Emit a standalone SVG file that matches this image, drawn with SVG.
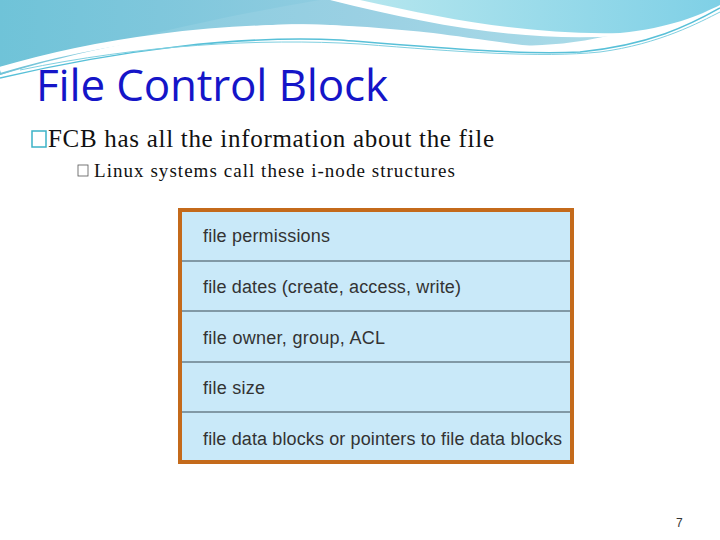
<svg xmlns="http://www.w3.org/2000/svg" width="720" height="540" viewBox="0 0 720 540">
<defs>
<linearGradient id="w1" x1="0" y1="0" x2="1" y2="0"><stop offset="0" stop-color="#6fc3d8"/><stop offset="0.5" stop-color="#8fcbe0"/><stop offset="1" stop-color="#a9dde8"/></linearGradient>
<linearGradient id="w2" x1="0" y1="0" x2="1" y2="0"><stop offset="0" stop-color="#b5e6ee"/><stop offset="1" stop-color="#7fd0e6"/></linearGradient>
</defs>
<style>
.row{fill:#c9e9f9}
.div{stroke:#3a4a55;stroke-width:1.2}
.t{font-family:"Liberation Sans",Arial,sans-serif;font-size:18px;fill:#333}
</style>
<rect width="720" height="540" fill="#fff"/>
<g id="header">
<path d="M0,0 H320 C200,20 80,50 0,75 Z" fill="url(#w1)"/>
<path d="M0,75 C100,45 230,20 330,25 C430,32 470,45 500,45 C560,48 620,40 720,0 V-1 H0 Z" fill="url(#w1)" opacity="0.9"/>
<path d="M0,70 C100,40 220,25 330,28 C440,32 500,48 560,52" fill="none" stroke="#fff" stroke-width="6"/>
<path d="M330,0 C430,25 520,42 620,36 C670,30 700,15 720,5 V0 Z" fill="#fff"/>
<path d="M360,0 C450,20 530,35 620,33 C670,28 700,15 720,5 V0 Z" fill="url(#w2)"/>
<path d="M0,78 C120,50 240,35 340,40 C440,48 520,55 580,52 C650,45 690,25 720,8" fill="none" stroke="#58c0d8" stroke-width="1.5"/>
<path d="M20,70 C140,45 260,38 360,44 C460,52 540,58 600,52 C660,44 700,22 720,12" fill="none" stroke="#7fcfe0" stroke-width="1"/>
</g>
<text x="36" y="101" font-family="Open Sans,'Liberation Sans',sans-serif" font-size="44" fill="#1515c8" textLength="352">File Control Block</text>
<rect x="32" y="131" width="14" height="16" fill="none" stroke="#3bb3c7" stroke-width="1.5"/>
<text x="48" y="147" font-family="'Liberation Serif',serif" font-size="25" fill="#111" textLength="446">FCB has all the information about the file</text>
<rect x="78" y="165" width="10" height="11" fill="none" stroke="#555" stroke-width="0.8"/>
<text x="94" y="177" font-family="'Liberation Serif',serif" font-size="19" fill="#111" textLength="361">Linux systems call these i-node structures</text>
<g id="fcb">
<rect x="180" y="210" width="392" height="252" class="row" stroke="#c46a1b" stroke-width="4"/>
<line x1="182" y1="261" x2="570" y2="261" class="div"/>
<line x1="182" y1="311" x2="570" y2="311" class="div"/>
<line x1="182" y1="362" x2="570" y2="362" class="div"/>
<line x1="182" y1="412" x2="570" y2="412" class="div"/>
<text x="203" y="242" class="t" textLength="127">file permissions</text>
<text x="203" y="293" class="t" textLength="258">file dates (create, access, write)</text>
<text x="203" y="344" class="t" textLength="182">file owner, group, ACL</text>
<text x="203" y="394" class="t" textLength="62">file size</text>
<text x="203" y="445" class="t" textLength="359">file data blocks or pointers to file data blocks</text>
</g>
<text x="676" y="527" font-family="'Liberation Sans',sans-serif" font-size="12" fill="#333">7</text>
</svg>
